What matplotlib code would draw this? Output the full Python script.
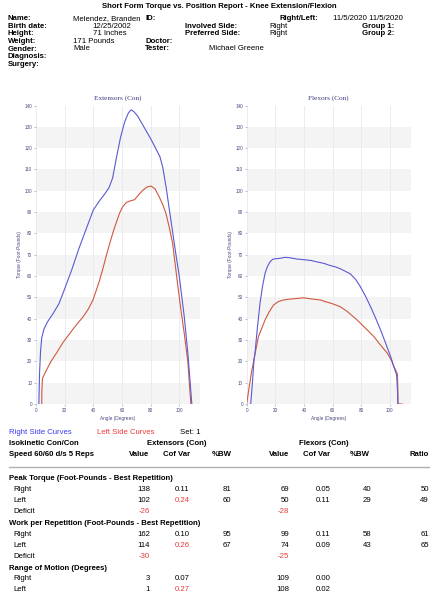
import matplotlib
matplotlib.use('Agg')
import matplotlib.pyplot as plt
from matplotlib.lines import Line2D

plt.rcParams['font.family'] = ['Liberation Sans Narrow', 'Liberation Sans', 'DejaVu Sans']

# ---- curve data (angle in degrees, torque in foot-pounds) ----
ext_right_angle = [2.0, 2.5, 3.2, 4.0, 5.5, 8, 12, 16, 20, 25, 30, 35, 40, 44, 48, 51, 53.5, 56, 59, 62,
                   64.5, 66.5, 68.5, 71, 74, 77, 80, 83.5, 86.5, 88.5, 91, 94, 97.5, 100, 103.5, 106, 108.8]
ext_right_torque = [0, 15, 25, 31, 35, 38.5, 42.5, 47, 54, 63, 73, 82, 91, 95, 98.5, 101.5, 106, 115, 125, 132.5,
                    136.5, 138, 137, 135, 131.5, 128, 124.5, 120, 116, 111, 101, 87, 71, 60, 41, 24, 0]

ext_left_angle = [4.0, 4.1, 4.5, 7, 10.5, 14.4, 19, 23.6, 28, 32.9, 36.5, 39.8, 44.4, 46.5, 49.5, 52, 54, 56, 58.3,
                  60.5, 63, 66, 68.8, 71.5, 74.5, 77.5, 80.3, 83, 86, 88.5, 90.7, 93, 95.4, 98.8, 101, 103.5, 106, 108.1]
ext_left_torque = [0, 6, 12, 15.5, 20, 24, 29, 33.1, 37, 40.9, 44.5, 48.8, 58, 63, 70.6, 76.5, 81, 85, 89.4,
                   92.5, 94.5, 95.3, 95.8, 98, 100.2, 101.8, 102.2, 101, 97.2, 93.5, 89.4, 83, 75.3, 56.6, 45, 33.1, 20, 0]

flx_right_angle = [2.8, 4, 5.1, 5.8, 7.5, 9.3, 11, 12.8, 14.5, 16.3, 18, 19.8, 23, 26.9, 30, 35, 39.7, 45, 50, 53.7,
                   58, 62, 65.4, 69, 72.4, 76, 79.4, 83, 86.5, 90, 93.5, 97, 100.5, 103, 104.7, 105.3, 105.6]
flx_right_torque = [0, 10, 20.6, 24, 36, 47.2, 55, 61.3, 64.5, 66.7, 67.8, 68.1, 68.3, 68.8, 68.6, 68.0, 67.7, 67.3, 66.5, 66,
                    65, 64.3, 63.4, 62.2, 61, 58.5, 55, 50.5, 45.6, 40.3, 34.7, 28.5, 22.2, 17, 13.6, 6, 0]

flx_left_angle = [0, 1.5, 3.5, 5.1, 8.2, 10.5, 12.8, 15.5, 18.7, 22, 25.7, 30, 35, 39.7, 45, 51.4, 55, 60, 65.4, 70,
                  77.1, 83, 88.8, 93, 98.2, 101, 102.8, 104.2, 105.2, 105.5, 105.6, 108.5]
flx_left_torque = [0, 7, 15.5, 21, 31.6, 35.5, 39.4, 43, 46.4, 48, 48.8, 49.2, 49.5, 49.8, 49.3, 48.8, 48, 47, 45.6, 43.5,
                   39.4, 35.5, 31.6, 28, 23.8, 20.5, 17.5, 15.5, 14, 8, 0, 0]

# ---- patient info ----
info_labels = ['Name:', 'Birth date:', 'Height:', 'Weight:', 'Gender:', 'Diagnosis:', 'Surgery:']
info_values = ['Melendez, Branden', '12/25/2002', '71 Inches', '171 Pounds', 'Male', '', '']

# ---- results table ----
col_heads = ['Value', 'Cof Var', '%BW', 'Value', 'Cof Var', '%BW', 'Ratio']
sections = ['Peak Torque (Foot-Pounds - Best Repetition)',
            'Work per Repetition (Foot-Pounds - Best Repetition)',
            'Range of Motion (Degrees)']
sides = ['Right', 'Left']

peak_ext = [138, 102]
peak_ext_cv = ['0.11', '0.24']
peak_ext_bw = [81, 60]
peak_flx = [69, 50]
peak_flx_cv = ['0.05', '0.11']
peak_flx_bw = [40, 29]
peak_ratio = [50, 49]
peak_deficit = [-26, -28]

work_ext = [162, 114]
work_ext_cv = ['0.10', '0.26']
work_ext_bw = [95, 67]
work_flx = [99, 74]
work_flx_cv = ['0.11', '0.09']
work_flx_bw = [58, 43]
work_ratio = [61, 65]
work_deficit = [-30, -25]

rom_ext = [3, 1]
rom_ext_cv = ['0.07', '0.27']
rom_flx = [109, 108]
rom_flx_cv = ['0.00', '0.02']

W, H = 438, 594
fig = plt.figure(figsize=(W / 100, H / 100), dpi=100)

BLUE = '#5a5ad2'
RED = '#d0583f'
FS = 5.6


def put(x, y, s, **kw):
    kw.setdefault('fontsize', FS)
    kw.setdefault('va', 'center')
    fig.text(x / W, 1 - y / H, s, **kw)


def make_axes(left, title, right_a, right_t, left_a, left_t):
    ax = fig.add_axes([left / W, 1 - 404 / H, 164 / W, (404 - 105.5) / H])
    ax.set_xlim(0, 114.5)
    ax.set_ylim(0, 140)
    for k in range(0, 140, 20):
        ax.axhspan(k, k + 10, color='#f4f4f4', lw=0, zorder=0)
    for s in ax.spines.values():
        s.set_visible(False)
    ax.set_yticks(range(0, 141, 10))
    ax.set_xticks(range(0, 101, 20))
    ax.grid(axis='x', color='#e8e8ee', lw=0.6)
    ax.tick_params(labelsize=3.3, length=1.5, width=0.4, pad=1.2,
                   colors='#8a8ab0', labelcolor='#4a4a80')
    ax.set_xlabel('Angle (Degrees)', fontsize=3.4, color='#4a4a80', labelpad=2)
    ax.set_ylabel('Torque (Foot-Pounds)', fontsize=3.4, color='#4a4a80', labelpad=2)
    ax.set_title(title, fontsize=5.2, family='Liberation Serif', color='#3a3a80', pad=4)
    ax.plot(left_a, left_t, color=RED, lw=0.8)
    ax.plot(right_a, right_t, color=BLUE, lw=0.8)
    return ax


make_axes(36, 'Extensors (Con)', ext_right_angle, ext_right_torque, ext_left_angle, ext_left_torque)
make_axes(246.7, 'Flexors (Con)', flx_right_angle, flx_right_torque, flx_left_angle, flx_left_torque)

# ---- header ----
put(219, 7, 'Short Form Torque vs. Position Report - Knee Extension/Flexion', ha='center', weight='bold')
for i, lab in enumerate(info_labels):
    put(8, 18.3 + i * 7.7, lab, weight='bold')
put(73, 18.3, info_values[0])
put(112, 26, info_values[1], ha='center')
put(110, 33.7, info_values[2], ha='center')
put(73, 41.3, info_values[3])
put(73, 49, info_values[4])
put(145, 18.3, 'ID:', weight='bold')
put(318, 18.3, 'Right/Left:', weight='bold', ha='right')
put(333, 18.3, '11/5/2020 11/5/2020')
put(185, 26, 'Involved Side:', weight='bold')
put(185, 33.7, 'Preferred Side:', weight='bold')
put(269, 26, 'Right')
put(269, 33.7, 'Right')
put(394, 26, 'Group 1:', weight='bold', ha='right')
put(394, 33.7, 'Group 2:', weight='bold', ha='right')
put(145, 41.3, 'Doctor:', weight='bold')
put(145, 49, 'Tester:', weight='bold')
put(209, 49, 'Michael Greene')

# ---- legend / table ----
put(9, 433, 'Right Side Curves', color='#3a3af0')
put(97, 433, 'Left Side Curves', color='#f03a3a')
put(180, 433, 'Set: 1')
put(9, 443.7, 'Isokinetic Con/Con', weight='bold')
put(177, 443.7, 'Extensors (Con)', weight='bold', ha='center')
put(324, 443.7, 'Flexors (Con)', weight='bold', ha='center')
put(9, 454, 'Speed 60/60 d/s 5 Reps', weight='bold')

head_x = [149, 177, 222, 289, 317, 360, 429]
head_ha = ['right', 'center', 'center', 'right', 'center', 'center', 'right']
for x, h, ha in zip(head_x, col_heads, head_ha):
    put(x, 454, h, weight='bold', ha=ha)
fig.add_artist(Line2D([9 / W, 429 / W], [1 - 467 / H, 1 - 467 / H], color='#b0b0b0', lw=1.0))

val_x = [150, 182, 227, 289, 323, 367, 429]
val_ha = ['right', 'center', 'center', 'right', 'center', 'center', 'right']
RED_TXT = '#e83c3c'


def cv_color(cv):
    return RED_TXT if float(cv) > 0.15 else 'black'


def block(y0, title, rows, deficit):
    put(9, y0, title, weight='bold')
    for k, side in enumerate(sides):
        y = y0 + 10.8 * (k + 1)
        put(13, y, side)
        for j, v in enumerate(rows):
            if v is None:
                continue
            s = str(v[k])
            col = cv_color(s) if j in (1, 4) else 'black'
            put(val_x[j], y, s, ha=val_ha[j], color=col)
    if deficit is not None:
        y = y0 + 10.8 * 3
        put(13, y, 'Deficit')
        put(val_x[0], y, str(deficit[0]), ha='right', color=RED_TXT)
        put(val_x[3], y, str(deficit[1]), ha='right', color=RED_TXT)


block(479, sections[0],
      [peak_ext, peak_ext_cv, peak_ext_bw, peak_flx, peak_flx_cv, peak_flx_bw, peak_ratio], peak_deficit)
block(523.6, sections[1],
      [work_ext, work_ext_cv, work_ext_bw, work_flx, work_flx_cv, work_flx_bw, work_ratio], work_deficit)
block(568.2, sections[2],
      [rom_ext, rom_ext_cv, None, rom_flx, rom_flx_cv, None, None], None)

fig.savefig('out.png', dpi=100)
